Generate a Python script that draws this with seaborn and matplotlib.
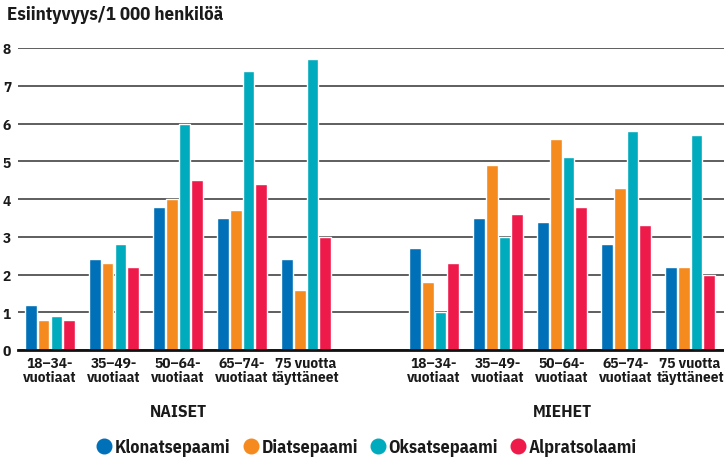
import numpy as np
import pandas as pd
import matplotlib
matplotlib.use("Agg")
import matplotlib.pyplot as plt
from matplotlib.lines import Line2D
import seaborn as sns

# ---- data ----
drugs = ["Klonatsepaami", "Diatsepaami", "Oksatsepaami", "Alpratsolaami"]
colors = ["#0070b8", "#f58a1f", "#00abbd", "#ee1a4a"]
age_labels = ["18–34-\nvuotiaat", "35–49-\nvuotiaat", "50–64-\nvuotiaat",
              "65–74-\nvuotiaat", "75 vuotta\ntäyttäneet"]

naiset_klon = [1.2, 2.4, 3.8, 3.5, 2.4]
naiset_diat = [0.8, 2.3, 4.0, 3.7, 1.6]
naiset_oksa = [0.9, 2.8, 6.0, 7.4, 7.7]
naiset_alpr = [0.8, 2.2, 4.5, 4.4, 3.0]

miehet_klon = [2.7, 3.5, 3.4, 2.8, 2.2]
miehet_diat = [1.8, 4.9, 5.6, 4.3, 2.2]
miehet_oksa = [1.0, 3.0, 5.1, 5.8, 5.7]
miehet_alpr = [2.3, 3.6, 3.8, 3.3, 2.0]

# slot keys: 5 women, one empty gap, 5 men
slots = ["N0", "N1", "N2", "N3", "N4", "gap", "M0", "M1", "M2", "M3", "M4"]

rows = []
for prefix, series in [("N", [naiset_klon, naiset_diat, naiset_oksa, naiset_alpr]),
                       ("M", [miehet_klon, miehet_diat, miehet_oksa, miehet_alpr])]:
    for drug, vals in zip(drugs, series):
        for i, v in enumerate(vals):
            rows.append({"slot": f"{prefix}{i}", "drug": drug, "value": v})
df = pd.DataFrame(rows)

# ---- plot ----
sns.set_style("white")
plt.rcParams["font.family"] = ["IBM Plex Sans Condensed", "DejaVu Sans"]

TXT = "#1a1a1a"
W, H = 724, 460
fig = plt.figure(figsize=(W / 100, H / 100), dpi=100)
ax = fig.add_axes([18 / W, 109 / H, (W - 18) / W, 302 / H])

ax.yaxis.grid(True, color="#333333", linewidth=1.1)
ax.set_axisbelow(True)

sns.barplot(data=df, x="slot", y="value", hue="drug", order=slots,
            hue_order=drugs, palette=colors, width=0.8, gap=0.08,
            saturation=1, ax=ax, legend=False, errorbar=None)

ax.set_xlim(-0.5, 10.53)
ax.set_ylim(0, 8)
ax.set_xlabel("")
ax.set_ylabel("")

ax.set_xticks(range(11))
ax.set_xticklabels(age_labels + [""] + age_labels, fontsize=11,
                   fontweight="bold", color=TXT, linespacing=1.05)
ax.set_xticks(np.arange(-0.5, 11, 1.0), minor=True)
ax.tick_params(axis="x", which="major", length=0, pad=4)
ax.tick_params(axis="x", which="minor", direction="in", length=5,
               width=1.2, color="#555555")

ax.set_yticks(range(9))
ax.set_yticklabels([str(i) for i in range(9)], fontsize=11,
                   fontweight="bold", color=TXT)
ax.tick_params(axis="y", length=0, pad=5)

for s in ["top", "right", "left"]:
    ax.spines[s].set_visible(False)
ax.spines["bottom"].set_color("#111111")
ax.spines["bottom"].set_linewidth(2)

fig.text(7 / W, 1 - 15 / H, "Esiintyvyys/1 000 henkilöä", fontsize=13.5,
         fontweight="bold", ha="left", va="center", color=TXT)
fig.text(178 / W, 1 - 413 / H, "NAISET", fontsize=12.5, fontweight="bold",
         ha="center", va="center", color=TXT)
fig.text(562 / W, 1 - 413 / H, "MIEHET", fontsize=12.5, fontweight="bold",
         ha="center", va="center", color=TXT)

handles = [Line2D([], [], marker="o", linestyle="", markersize=10.5,
                  markerfacecolor=c, markeredgecolor=c) for c in colors]
leg = fig.legend(handles, drugs, loc="center", bbox_to_anchor=(366 / W, 1 - 448 / H),
                 ncol=4, frameon=False, handletextpad=0.1, columnspacing=0.6,
                 handlelength=1.0, prop={"size": 13, "weight": "bold"})
for t in leg.get_texts():
    t.set_color(TXT)

fig.savefig("out.png", dpi=100)
